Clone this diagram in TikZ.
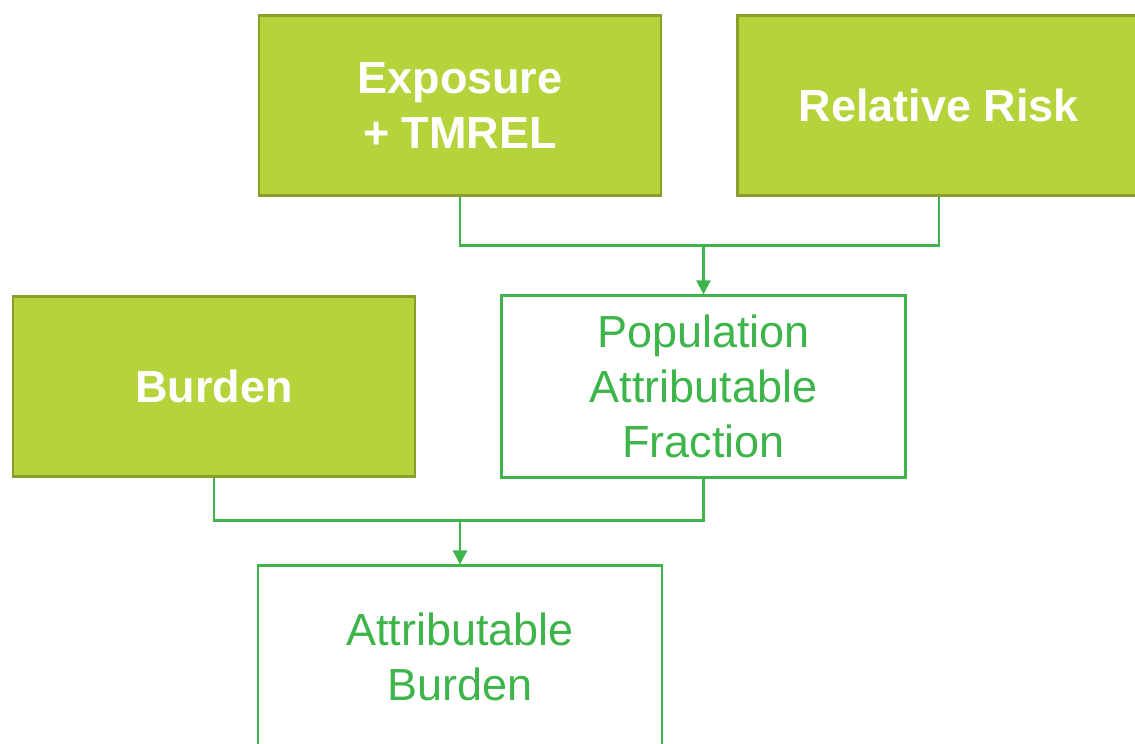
\documentclass[tikz,border=0pt]{standalone}
\usepackage{fontspec}
\setmainfont{Liberation Sans}
\usetikzlibrary{
    arrows.meta,
    positioning,
    calc
}
\definecolor{limefill}{HTML}{B5D33B}
\definecolor{limeedge}{HTML}{8A9E2B}
\definecolor{pafgreen}{HTML}{3DB54A}

\begin{document}
\begin{tikzpicture}[
        every node/.style={font=\fontsize{32pt}{39pt}\selectfont},
        input/.style={
            rectangle,
            draw=limeedge,
            line width=2.1pt,
            fill=limefill,
            text=white,
            font=\fontsize{32pt}{39pt}\selectfont\bfseries,
            minimum width=10.05cm,
            minimum height=4.5cm,
            align=center
        },
        result/.style={
            rectangle,
            draw=pafgreen,
            line width=1.5pt,
            fill=white,
            text=pafgreen,
            minimum width=10.1cm,
            minimum height=4.55cm,
            align=center
        },
        link/.style={
            draw=pafgreen,
            line width=1.6pt
        },
        arrow/.style={
            link,
            -{Triangle[length=10pt,width=10pt]}
        }
    ]

    \clip (0,0) rectangle (28.375,-18.575);
    \useasboundingbox (0,0) rectangle (28.375,-18.575);

    \node[input] (exposure) at (11.5,-2.6375) {Exposure\\+ TMREL};
    \node[input, right=1.85cm of exposure] (rr) {Relative Risk};

    \node[input] (burden) at (5.35,-9.6625) {Burden};
    \node[result] (paf) at (17.5875,-9.6625)
        {Population\\Attributable\\Fraction};

    \node[result] (ab) at (11.5,-16.4125) {Attributable\\Burden};

    % joins between the boxes
    \coordinate (jtop) at ($(paf.north)+(0,1.225)$);
    \coordinate (jbot) at ($(ab.north)+(0,1.1)$);

    \draw[link] (exposure.south) |- (jtop) -| (rr.south);
    \draw[arrow] (jtop) -- (paf.north);

    \draw[link] (burden.south) |- (jbot) -| (paf.south);
    \draw[arrow] (jbot) -- (ab.north);

\end{tikzpicture}
\end{document}
